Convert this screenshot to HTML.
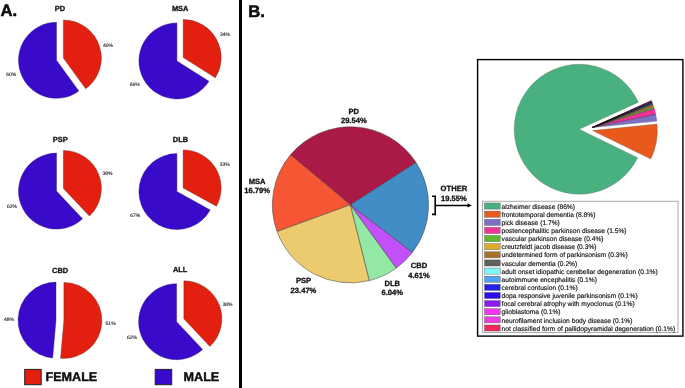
<!DOCTYPE html>
<html><head><meta charset="utf-8"><style>
html,body{margin:0;padding:0;background:#fff;}
body{width:685px;height:388px;overflow:hidden;}
svg{display:block;will-change:transform;}
text{font-family:"Liberation Sans",sans-serif;fill:#111;text-rendering:geometricPrecision;}
.t{font-weight:bold;font-size:7.45px;stroke:#111;stroke-width:0.3px;}
.p{font-size:5px;fill:#222;stroke:#222;stroke-width:0.12px;}
.lg{font-weight:bold;font-size:12.6px;stroke:#000;stroke-width:0.4px;}
.big{font-weight:bold;font-size:16.7px;stroke:#000;stroke-width:0.5px;}
.bl{font-weight:bold;font-size:7.6px;stroke:#111;stroke-width:0.3px;}
.lt{font-size:6.68px;fill:#111;stroke:#111;stroke-width:0.15px;}
</style></head><body>
<svg width="685" height="388" viewBox="0 0 685 388">
<g>
<rect width="685" height="388" fill="#fff"/>
<path d="M56.50,60.30 L78.84,91.04 A38.00,38.00 0 1 1 56.50,22.30 Z" fill="#3a0acb" stroke="#2a1a6a" stroke-width="0.4" stroke-linejoin="round"/>
<path d="M63.35,58.08 L63.35,20.08 A38.00,38.00 0 0 1 85.68,88.82 Z" fill="#e3200f" stroke="#6a2a20" stroke-width="0.4" stroke-linejoin="round"/>
<text x="60.0" y="11.1" class="t" text-anchor="middle">PD</text>
<text x="103.0" y="46.6" class="p">40%</text>
<text x="6.2" y="75.8" class="p">60%</text>
<path d="M176.90,60.95 L208.98,81.31 A38.00,38.00 0 1 1 176.90,22.95 Z" fill="#3a0acb" stroke="#2a1a6a" stroke-width="0.4" stroke-linejoin="round"/>
<path d="M183.21,57.48 L183.21,19.48 A38.00,38.00 0 0 1 215.29,77.84 Z" fill="#e3200f" stroke="#6a2a20" stroke-width="0.4" stroke-linejoin="round"/>
<text x="180.2" y="11.0" class="t" text-anchor="middle">MSA</text>
<text x="220.0" y="35.8" class="p">34%</text>
<text x="129.8" y="85.5" class="p">66%</text>
<path d="M56.50,191.10 L82.51,218.80 A38.00,38.00 0 1 1 56.50,153.10 Z" fill="#3a0acb" stroke="#2a1a6a" stroke-width="0.4" stroke-linejoin="round"/>
<path d="M63.38,188.38 L63.38,150.38 A38.00,38.00 0 0 1 89.39,216.08 Z" fill="#e3200f" stroke="#6a2a20" stroke-width="0.4" stroke-linejoin="round"/>
<text x="60.2" y="142.0" class="t" text-anchor="middle">PSP</text>
<text x="102.5" y="175.2" class="p">38%</text>
<text x="7.0" y="207.8" class="p">62%</text>
<path d="M176.90,191.60 L210.20,209.91 A38.00,38.00 0 1 1 176.90,153.60 Z" fill="#3a0acb" stroke="#2a1a6a" stroke-width="0.4" stroke-linejoin="round"/>
<path d="M183.14,187.91 L183.14,149.91 A38.00,38.00 0 0 1 216.44,206.22 Z" fill="#e3200f" stroke="#6a2a20" stroke-width="0.4" stroke-linejoin="round"/>
<text x="180.5" y="141.7" class="t" text-anchor="middle">DLB</text>
<text x="219.7" y="165.9" class="p">33%</text>
<text x="130.3" y="217.4" class="p">67%</text>
<path d="M56.00,320.10 L52.66,357.95 A38.00,38.00 0 0 1 56.00,282.10 Z" fill="#3a0acb" stroke="#2a1a6a" stroke-width="0.4" stroke-linejoin="round"/>
<path d="M63.89,320.45 L63.89,282.45 A38.00,38.00 0 1 1 60.55,358.30 Z" fill="#e3200f" stroke="#6a2a20" stroke-width="0.4" stroke-linejoin="round"/>
<text x="60.1" y="272.9" class="t" text-anchor="middle">CBD</text>
<text x="105.6" y="324.9" class="p">51%</text>
<text x="3.9" y="320.5" class="p">48%</text>
<path d="M176.60,321.70 L202.61,349.40 A38.00,38.00 0 1 1 176.60,283.70 Z" fill="#3a0acb" stroke="#2a1a6a" stroke-width="0.4" stroke-linejoin="round"/>
<path d="M183.85,318.83 L183.85,280.83 A38.00,38.00 0 0 1 209.87,346.53 Z" fill="#e3200f" stroke="#6a2a20" stroke-width="0.4" stroke-linejoin="round"/>
<text x="180.2" y="272.4" class="t" text-anchor="middle">ALL</text>
<text x="222.5" y="306.1" class="p">38%</text>
<text x="127.0" y="338.5" class="p">62%</text>
<rect x="24.7" y="369.4" width="16.5" height="15.3" fill="#e3200f" stroke="#222" stroke-width="1"/>
<text x="45.5" y="381.3" class="lg">FEMALE</text>
<rect x="155.2" y="369.4" width="16.5" height="15.3" fill="#3a0acb" stroke="#222" stroke-width="1"/>
<text x="183.6" y="381.3" class="lg">MALE</text>
<rect x="239" y="0" width="3" height="388" fill="#000"/>
<text x="0.5" y="16.45" class="big">A.</text>
<text x="248.3" y="16.7" class="big">B.</text>
<path d="M350.45,204.85 L290.49,154.81 A78.10,78.10 0 0 1 416.06,162.49 Z" fill="#ab1946" stroke="#3a3a3a" stroke-width="0.5" stroke-linejoin="round"/>
<path d="M350.45,204.85 L277.06,231.56 A78.10,78.10 0 0 1 290.49,154.81 Z" fill="#f65634" stroke="#3a3a3a" stroke-width="0.5" stroke-linejoin="round"/>
<path d="M350.45,204.85 L369.41,280.61 A78.10,78.10 0 0 1 277.06,231.56 Z" fill="#eccb6e" stroke="#3a3a3a" stroke-width="0.5" stroke-linejoin="round"/>
<path d="M350.45,204.85 L396.36,268.03 A78.10,78.10 0 0 1 369.41,280.61 Z" fill="#93e8a6" stroke="#3a3a3a" stroke-width="0.5" stroke-linejoin="round"/>
<path d="M350.45,204.85 L412.45,252.34 A78.10,78.10 0 0 1 396.36,268.03 Z" fill="#c251fa" stroke="#3a3a3a" stroke-width="0.5" stroke-linejoin="round"/>
<path d="M350.45,204.85 L416.06,162.49 A78.10,78.10 0 0 1 412.45,252.34 Z" fill="#438dc7" stroke="#3a3a3a" stroke-width="0.5" stroke-linejoin="round"/>
<text x="353.8" y="114.35" class="bl" text-anchor="middle">PD</text>
<text x="353.8" y="123.45" class="bl" text-anchor="middle">29.54%</text>
<text x="257.1" y="184.2" class="bl" text-anchor="middle">MSA</text>
<text x="257.1" y="193.3" class="bl" text-anchor="middle">16.79%</text>
<text x="303.5" y="283.0" class="bl" text-anchor="middle">PSP</text>
<text x="303.5" y="292.9" class="bl" text-anchor="middle">23.47%</text>
<text x="392.3" y="285.7" class="bl" text-anchor="middle">DLB</text>
<text x="392.3" y="295.2" class="bl" text-anchor="middle">6.04%</text>
<text x="419.0" y="268.1" class="bl" text-anchor="middle">CBD</text>
<text x="419.0" y="277.8" class="bl" text-anchor="middle">4.61%</text>
<text x="453.9" y="191.0" class="bl" text-anchor="middle">OTHER</text>
<text x="453.9" y="200.6" class="bl" text-anchor="middle">19.55%</text>
<path d="M432,196.2 H435.2 V214.4 H432" fill="none" stroke="#000" stroke-width="1.6"/>
<path d="M435,205.4 H469" stroke="#000" stroke-width="1.5"/>
<path d="M467.5,203.3 L471.8,205.4 L467.5,207.5 Z" fill="#000"/>
<rect x="477.6" y="59.6" width="205.3" height="276.5" fill="none" stroke="#000" stroke-width="1.4"/>
<path d="M579.20,129.27 L637.64,157.72 A65.00,65.00 0 1 1 638.38,102.37 Z" fill="#49b07f" stroke="#555" stroke-width="0.3" stroke-linejoin="round"/>
<path d="M592.39,130.58 L657.07,124.10 A65.00,65.00 0 0 1 650.83,159.03 Z" fill="#e75a1c" stroke="#555" stroke-width="0.3" stroke-linejoin="round"/>
<path d="M592.26,127.53 L655.88,114.19 A65.00,65.00 0 0 1 656.94,121.05 Z" fill="#7b6fc6" stroke="#7b6fc6" stroke-width="0.15" stroke-linejoin="round"/>
<path d="M592.26,127.53 L654.34,108.26 A65.00,65.00 0 0 1 655.88,114.19 Z" fill="#f0339b" stroke="#f0339b" stroke-width="0.15" stroke-linejoin="round"/>
<path d="M592.26,127.53 L653.83,106.71 A65.00,65.00 0 0 1 654.34,108.26 Z" fill="#5dba2c" stroke="#5dba2c" stroke-width="0.15" stroke-linejoin="round"/>
<path d="M592.26,127.53 L653.43,105.55 A65.00,65.00 0 0 1 653.83,106.71 Z" fill="#e2a92f" stroke="#e2a92f" stroke-width="0.15" stroke-linejoin="round"/>
<path d="M592.26,127.53 L653.01,104.40 A65.00,65.00 0 0 1 653.43,105.55 Z" fill="#a6722a" stroke="#a6722a" stroke-width="0.15" stroke-linejoin="round"/>
<path d="M592.26,127.53 L652.71,103.64 A65.00,65.00 0 0 1 653.01,104.40 Z" fill="#5e5f5f" stroke="#5e5f5f" stroke-width="0.15" stroke-linejoin="round"/>
<path d="M592.26,127.53 L652.56,103.26 A65.00,65.00 0 0 1 652.71,103.64 Z" fill="#80f6f6" stroke="#80f6f6" stroke-width="0.15" stroke-linejoin="round"/>
<path d="M592.26,127.53 L652.41,102.89 A65.00,65.00 0 0 1 652.56,103.26 Z" fill="#4fa3f3" stroke="#4fa3f3" stroke-width="0.15" stroke-linejoin="round"/>
<path d="M592.26,127.53 L652.25,102.51 A65.00,65.00 0 0 1 652.41,102.89 Z" fill="#2121ea" stroke="#2121ea" stroke-width="0.15" stroke-linejoin="round"/>
<path d="M592.26,127.53 L652.09,102.13 A65.00,65.00 0 0 1 652.25,102.51 Z" fill="#2c0cf2" stroke="#2c0cf2" stroke-width="0.15" stroke-linejoin="round"/>
<path d="M592.26,127.53 L651.93,101.76 A65.00,65.00 0 0 1 652.09,102.13 Z" fill="#8d1cf0" stroke="#8d1cf0" stroke-width="0.15" stroke-linejoin="round"/>
<path d="M592.26,127.53 L651.77,101.38 A65.00,65.00 0 0 1 651.93,101.76 Z" fill="#f335ef" stroke="#f335ef" stroke-width="0.15" stroke-linejoin="round"/>
<path d="M592.26,127.53 L651.60,101.01 A65.00,65.00 0 0 1 651.77,101.38 Z" fill="#ef3de0" stroke="#ef3de0" stroke-width="0.15" stroke-linejoin="round"/>
<path d="M592.26,127.53 L651.43,100.64 A65.00,65.00 0 0 1 651.60,101.01 Z" fill="#ee2a5a" stroke="#ee2a5a" stroke-width="0.15" stroke-linejoin="round"/>
<path d="M592.26,127.53 L655.88,114.19" stroke="#111" stroke-width="0.4"/>
<path d="M592.26,127.53 L654.34,108.26" stroke="#111" stroke-width="0.4"/>
<path d="M592.26,127.53 L653.83,106.71" stroke="#111" stroke-width="0.4"/>
<path d="M592.26,127.53 L653.43,105.55" stroke="#111" stroke-width="0.4"/>
<path d="M592.26,127.53 L653.01,104.40" stroke="#111" stroke-width="0.4"/>
<path d="M592.26,127.53 L652.71,103.64" stroke="#111" stroke-width="0.4"/>
<path d="M592.26,127.53 L652.56,103.26" stroke="#111" stroke-width="0.4"/>
<path d="M592.26,127.53 L652.41,102.89" stroke="#111" stroke-width="0.4"/>
<path d="M592.26,127.53 L652.25,102.51" stroke="#111" stroke-width="0.4"/>
<path d="M592.26,127.53 L652.09,102.13" stroke="#111" stroke-width="0.4"/>
<path d="M592.26,127.53 L651.93,101.76" stroke="#111" stroke-width="0.4"/>
<path d="M592.26,127.53 L651.77,101.38" stroke="#111" stroke-width="0.4"/>
<path d="M592.26,127.53 L651.60,101.01" stroke="#111" stroke-width="0.4"/>
<path d="M592.26,127.53 L651.43,100.64" stroke="#111" stroke-width="0.6"/>
<path d="M592.26,127.53 L656.94,121.05" stroke="#555" stroke-width="0.3"/>
<rect x="482.4" y="201.2" width="195.6" height="131.2" fill="#fff" stroke="#888" stroke-width="0.7"/>
<rect x="484.5" y="203.00" width="15.7" height="6.1" fill="#49b07f" stroke="#555" stroke-width="0.4"/>
<text x="501.6" y="208.70" class="lt">alzheimer disease (86%)</text>
<rect x="484.5" y="211.13" width="15.7" height="6.1" fill="#e75a1c" stroke="#555" stroke-width="0.4"/>
<text x="501.6" y="216.83" class="lt">frontotemporal dementia (8.8%)</text>
<rect x="484.5" y="219.26" width="15.7" height="6.1" fill="#7b6fc6" stroke="#555" stroke-width="0.4"/>
<text x="501.6" y="224.96" class="lt">pick disease (1.7%)</text>
<rect x="484.5" y="227.39" width="15.7" height="6.1" fill="#f0339b" stroke="#555" stroke-width="0.4"/>
<text x="501.6" y="233.09" class="lt">postencephalitic parkinson disease (1.5%)</text>
<rect x="484.5" y="235.52" width="15.7" height="6.1" fill="#5dba2c" stroke="#555" stroke-width="0.4"/>
<text x="501.6" y="241.22" class="lt">vascular parkinson disease (0.4%)</text>
<rect x="484.5" y="243.65" width="15.7" height="6.1" fill="#e2a92f" stroke="#555" stroke-width="0.4"/>
<text x="501.6" y="249.35" class="lt">creutzfeldt jacob disease (0.3%)</text>
<rect x="484.5" y="251.78" width="15.7" height="6.1" fill="#a6722a" stroke="#555" stroke-width="0.4"/>
<text x="501.6" y="257.48" class="lt">undetermined form of parkinsonism (0.3%)</text>
<rect x="484.5" y="259.91" width="15.7" height="6.1" fill="#5e5f5f" stroke="#555" stroke-width="0.4"/>
<text x="501.6" y="265.61" class="lt">vascular dementia (0.2%)</text>
<rect x="484.5" y="268.04" width="15.7" height="6.1" fill="#80f6f6" stroke="#555" stroke-width="0.4"/>
<text x="501.6" y="273.74" class="lt">adult onset idiopathic cerebellar degeneration (0.1%)</text>
<rect x="484.5" y="276.17" width="15.7" height="6.1" fill="#4fa3f3" stroke="#555" stroke-width="0.4"/>
<text x="501.6" y="281.87" class="lt">autoimmune encephalitis (0.1%)</text>
<rect x="484.5" y="284.30" width="15.7" height="6.1" fill="#2121ea" stroke="#555" stroke-width="0.4"/>
<text x="501.6" y="290.00" class="lt">cerebral contusion (0.1%)</text>
<rect x="484.5" y="292.43" width="15.7" height="6.1" fill="#2c0cf2" stroke="#555" stroke-width="0.4"/>
<text x="501.6" y="298.13" class="lt">dopa responsive juvenile parkinsonism (0.1%)</text>
<rect x="484.5" y="300.56" width="15.7" height="6.1" fill="#8d1cf0" stroke="#555" stroke-width="0.4"/>
<text x="501.6" y="306.26" class="lt">focal cerebral atrophy with myoclonus (0.1%)</text>
<rect x="484.5" y="308.69" width="15.7" height="6.1" fill="#f335ef" stroke="#555" stroke-width="0.4"/>
<text x="501.6" y="314.39" class="lt">glioblastoma (0.1%)</text>
<rect x="484.5" y="316.82" width="15.7" height="6.1" fill="#ef3de0" stroke="#555" stroke-width="0.4"/>
<text x="501.6" y="322.52" class="lt">neurofilament inclusion body disease (0.1%)</text>
<rect x="484.5" y="324.95" width="15.7" height="6.1" fill="#ee2a5a" stroke="#555" stroke-width="0.4"/>
<text x="501.6" y="330.65" class="lt">not classified form of pallidopyramidal degeneration (0.1%)</text>
</g>
</svg>
</body></html>
